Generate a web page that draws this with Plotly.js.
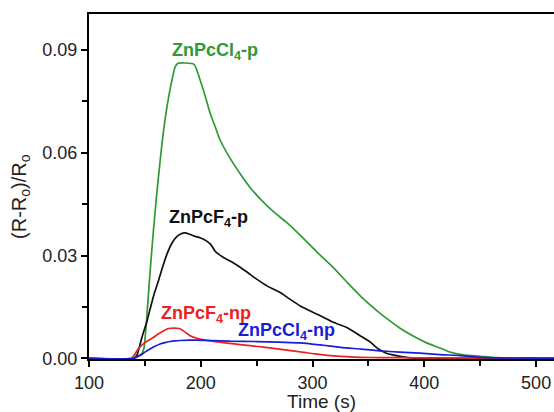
<!DOCTYPE html>
<html><head><meta charset="utf-8">
<script src="https://cdn.plot.ly/plotly-3.0.1.min.js"></script>
<style>html,body{margin:0;padding:0;background:#fff}#chart{width:554px;height:412px}</style>
</head><body><div id="chart"></div>
<script>
// ZnPcCl4-p (green)
const greenX = [100,140,143,147.5,149.2,151,152.8,154.6,157.3,160.9,164.4,168,171.6,174.3,177,179.6,186,194,199.3,204,208.3,213,217.2,226,236,245,253.6,265,277,290,304,318.6,332,345,358,368,378.3,390,402,414,423,435,450,465,480,516];
const greenY = [0,0,0.0005,0.0015,0.003,0.009,0.017,0.025,0.036,0.049,0.06,0.0696,0.0769,0.0813,0.085,0.0861,0.0862,0.0858,0.0813,0.0765,0.0716,0.0675,0.0638,0.0585,0.0535,0.0495,0.0464,0.0428,0.0396,0.0356,0.031,0.0265,0.0218,0.0175,0.0138,0.0112,0.0088,0.0065,0.0045,0.003,0.0018,0.001,0.0006,0.0002,0.0001,0];
// ZnPcF4-p (black)
const blackX = [100,140,143,145,148,151.6,154.6,158,162,166,169.5,174,178.5,182,186,190,195,199.3,205.3,209,212.8,220,229,240,250,260,271,280,289,298,307,318.6,330.6,342.5,351.5,359,366,375,384,393,516];
const blackY = [0,0,0.001,0.0033,0.0068,0.0105,0.0143,0.0185,0.0225,0.0268,0.0302,0.0335,0.0355,0.0363,0.0366,0.0362,0.0356,0.0352,0.0342,0.0332,0.0313,0.0295,0.0279,0.0255,0.0231,0.021,0.0192,0.0172,0.0153,0.0138,0.0124,0.0105,0.009,0.0066,0.0048,0.0027,0.0015,0.0008,0.0003,0,0];
// ZnPcF4-np (red)
const redX = [100,138,141,144,148.6,153,157.5,162,166.5,171,176,181,184.4,187,190.4,195,199.3,208,217,230,244,258,272,289,302,316,330,343,360,380,400,516];
const redY = [0,0,0.0012,0.0027,0.0042,0.0052,0.0061,0.0071,0.008,0.0087,0.0088,0.0087,0.008,0.0074,0.0066,0.006,0.0056,0.0051,0.0047,0.0042,0.0037,0.0032,0.0026,0.0019,0.0013,0.0008,0.0005,0.0003,0.0002,0.0002,0.0001,0];
// ZnPcCl4-np (blue)
const blueX = [100,140,145.6,150,154.6,159,163.5,168,172.5,177,181.4,190,196,210,226,250,270,289,307,325,343,360,378,396,414,432,450,470,516];
const blueY = [0,0,0.0008,0.0018,0.0027,0.0035,0.0042,0.0046,0.0049,0.0051,0.0052,0.0053,0.0053,0.0052,0.005,0.0049,0.0047,0.0045,0.0039,0.0032,0.0027,0.0022,0.0018,0.0015,0.0011,0.0008,0.0003,0.0001,0];

const labels = ['ZnPcCl<sub>4</sub>-p','ZnPcF<sub>4</sub>-p','ZnPcF<sub>4</sub>-np','ZnPcCl<sub>4</sub>-np'];
const labelX = [213, 207, 204.5, 277];
const labelY = [0.0896, 0.0408, 0.0128, 0.0079];
const colors = ['#2f9a35','#111111','#e8231f','#1c1cd8'];

const traces = [
  {x: greenX, y: greenY},
  {x: blackX, y: blackY},
  {x: redX, y: redY},
  {x: blueX, y: blueY}
].map((t,i)=>Object.assign(t,{type:'scatter',mode:'lines',line:{color:colors[i],width:1.7,shape:'spline',smoothing:0.6},showlegend:false,hoverinfo:'none'}));

const fam = 'Arial, Liberation Sans, sans-serif';
const annotations = labels.map((t,i)=>({x:labelX[i],y:labelY[i],xref:'x',yref:'y',text:'<b>'+t+'</b>',showarrow:false,font:{family:fam,size:18,color:colors[i]}}));
annotations.push({xref:'paper',yref:'paper',x:-0.146,y:0.47,xanchor:'center',yanchor:'middle',textangle:-90,showarrow:false,
  text:'(R-R<sub>o</sub>)/R<sub>o</sub>',font:{family:fam,size:20,color:'#222'}});

const axFont = {family:fam,size:18,color:'#222'};
const layout = {
  width:554,height:412,
  margin:{l:89,r:0,t:14,b:53},
  paper_bgcolor:'#fff',plot_bgcolor:'#fff',
  font:axFont,
  xaxis:{range:[100,516],dtick:100,tick0:100,showgrid:false,zeroline:false,showline:true,linecolor:'#000',linewidth:2,mirror:true,
    ticks:'outside',ticklen:6,tickwidth:2,tickcolor:'#000',tickfont:axFont,
    minor:{dtick:50,ticks:'outside',ticklen:5,tickwidth:2,tickcolor:'#000'},
    title:{text:'Time (s)',font:{family:fam,size:19,color:'#222'},standoff:5}},
  yaxis:{range:[-0.0002,0.1005],dtick:0.03,tick0:0,tickformat:'.2f',showgrid:false,zeroline:false,showline:true,linecolor:'#000',linewidth:2,mirror:false,
    ticks:'outside',ticklen:6,tickwidth:2,tickcolor:'#000',tickfont:axFont,
    minor:{dtick:0.015,ticks:'outside',ticklen:5,tickwidth:2,tickcolor:'#000'}},
  annotations:annotations
};
Plotly.newPlot('chart',traces,layout,{displayModeBar:false,staticPlot:true});
</script></body></html>
